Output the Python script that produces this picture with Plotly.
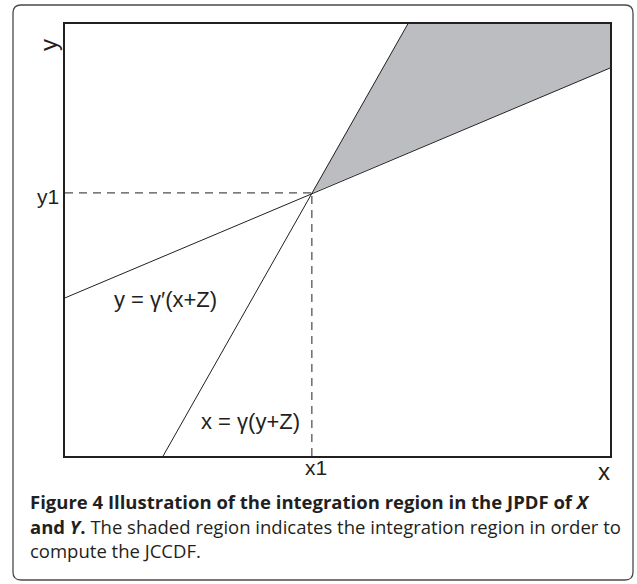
import plotly.graph_objects as go

# ---- diagram data (abstract units, axes 0..100) ----
X_RANGE = [0, 100]
Y_RANGE = [0, 100]
X1 = 45.3
Y1 = 60.9
line1_x = [0, 100]          # y = γ'(x+Z)
line1_y = [36.6, 89.8]
line2_x = [18.0, 62.9]      # x = γ(y+Z)
line2_y = [0, 100]
shade_x = [45.3, 62.9, 100, 100, 45.3]
shade_y = [60.9, 100, 100, 89.8, 60.9]
label1_pos = (18.35, 36.3)
label2_pos = (34.1, 8.1)
label1_text = "y = γ′(x+Z)"
label2_text = "x = γ(y+Z)"
tick_x_label = "x1"
tick_y_label = "y1"
axis_x_title = "x"
axis_y_title = "y"
caption_lines = [
    "<b>Figure 4 Illustration of the integration region in the JPDF of <i>X</i></b>",
    "<b>and <i>Y</i>.</b> The shaded region indicates the integration region in order to",
    "compute the JCCDF.",
]

INK = "#231f20"
W, H = 637, 584
L, R, T, B = 65, 27, 24, 128
PW, PH = W - L - R, H - T - B


def px_x(px):
    return (px - L) / PW


def px_y(py):
    return (H - B - py) / PH


fig = go.Figure()
fig.add_trace(go.Scatter(x=shade_x, y=shade_y, fill="toself", fillcolor="#bcbdc0",
                         mode="lines", line=dict(width=0), hoverinfo="skip"))
fig.add_trace(go.Scatter(x=line1_x, y=line1_y, mode="lines",
                         line=dict(color=INK, width=1)))
fig.add_trace(go.Scatter(x=line2_x, y=line2_y, mode="lines",
                         line=dict(color=INK, width=1)))
fig.add_trace(go.Scatter(x=[X_RANGE[0], X1], y=[Y1, Y1], mode="lines",
                         line=dict(color=INK, width=1, dash="8px,6px")))
fig.add_trace(go.Scatter(x=[X1, X1], y=[Y_RANGE[0], Y1], mode="lines",
                         line=dict(color=INK, width=1, dash="8px,6px")))

axis_common = dict(showgrid=False, zeroline=False, showticklabels=False, ticks="",
                   showline=True, mirror=True, linecolor=INK, linewidth=2,
                   fixedrange=True)
fig.update_xaxes(range=X_RANGE, **axis_common)
fig.update_yaxes(range=Y_RANGE, **axis_common)

lab_font = dict(family="Liberation Sans, Arial, sans-serif", color=INK)
ann = []
ann.append(dict(x=label1_pos[0], y=label1_pos[1], xref="x", yref="y", text=label1_text,
                showarrow=False, font=dict(size=22, **lab_font)))
ann.append(dict(x=label2_pos[0], y=label2_pos[1], xref="x", yref="y", text=label2_text,
                showarrow=False, font=dict(size=22, **lab_font)))
ann.append(dict(x=X1, y=px_y(467), xref="x", yref="paper", text=tick_x_label, xshift=4,
                showarrow=False, xanchor="center", yanchor="middle",
                font=dict(size=21, **lab_font)))
ann.append(dict(x=px_x(61), y=Y1, xref="paper", yref="y", text=tick_y_label, yshift=-4,
                showarrow=False, xanchor="right", yanchor="middle",
                font=dict(size=21, **lab_font)))
ann.append(dict(x=px_x(604), y=px_y(471), xref="paper", yref="paper", text=axis_x_title,
                showarrow=False, xanchor="center", yanchor="middle",
                font=dict(size=24, **lab_font)))
ann.append(dict(x=px_x(48), y=px_y(45), xref="paper", yref="paper", text=axis_y_title,
                showarrow=False, xanchor="center", yanchor="middle", textangle=-90,
                font=dict(size=24, **lab_font)))
cap_font = dict(family="Open Sans, Noto Sans, sans-serif", size=18.5, color=INK)
for i, (txt, py) in enumerate(zip(caption_lines, [502, 526, 550])):
    ann.append(dict(x=px_x(28), y=px_y(py), xref="paper", yref="paper", text=txt,
                    showarrow=False, xanchor="left", yanchor="middle", align="left",
                    font=cap_font))

# rounded outer frame
x0, x1p = px_x(13), px_x(633)
y0, y1p = px_y(580), px_y(5)
rx, ry = 8 / PW, 8 / PH
path = (f"M {x0+rx},{y1p} L {x1p-rx},{y1p} Q {x1p},{y1p} {x1p},{y1p-ry} "
        f"L {x1p},{y0+ry} Q {x1p},{y0} {x1p-rx},{y0} L {x0+rx},{y0} "
        f"Q {x0},{y0} {x0},{y0+ry} L {x0},{y1p-ry} Q {x0},{y1p} {x0+rx},{y1p} Z")

fig.update_layout(
    width=W, height=H, margin=dict(l=L, r=R, t=T, b=B),
    paper_bgcolor="white", plot_bgcolor="white", showlegend=False,
    annotations=ann,
    shapes=[dict(type="path", xref="paper", yref="paper", path=path,
                 line=dict(color="#4a4a4a", width=1.3), layer="below")],
)
fig.write_html("out.html", config={"displayModeBar": False})
